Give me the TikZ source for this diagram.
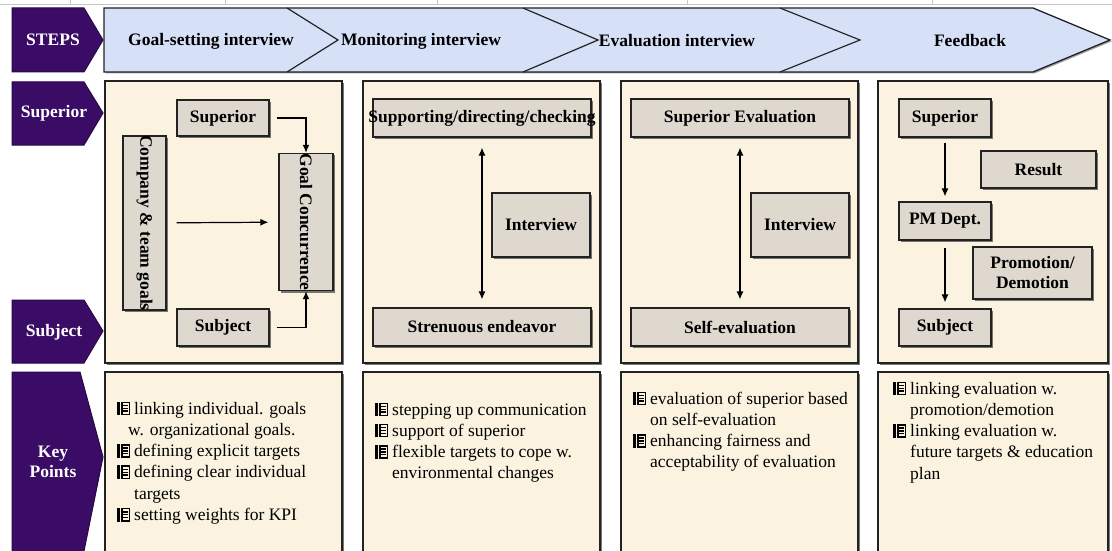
\documentclass[tikz,border=0pt]{standalone}
\usepackage{fontspec}
\setmainfont{Liberation Serif}
\usetikzlibrary{shadows,calc,arrows.meta}

\definecolor{plum}{RGB}{58,12,102}
\definecolor{bandfill}{RGB}{214,224,247}
\definecolor{panelfill}{RGB}{251,243,224}
\definecolor{cardfill}{RGB}{222,216,207}
\definecolor{edge}{RGB}{34,34,34}

% list marker: a bar beside a small ruled note, built from rules
\newcommand\kpmark{\raisebox{-1pt}{\setlength{\unitlength}{1pt}%
  \begin{picture}(13,13.5)
    \put(0,0){\rule{3pt}{13.5pt}}
    \put(4.2,0){\rule{8.8pt}{1.4pt}}
    \put(4.2,12.1){\rule{8.8pt}{1.4pt}}
    \put(4.2,0){\rule{1.3pt}{13.5pt}}
    \put(11.7,0){\rule{1.3pt}{13.5pt}}
    \put(4.2,3.3){\rule{6.6pt}{1.3pt}}
    \put(4.2,6.1){\rule{6.6pt}{1.3pt}}
    \put(4.2,8.9){\rule{6.6pt}{1.3pt}}
  \end{picture}}}

\tikzset{
  sidelabel/.style={text=white, font=\bfseries\fontsize{17.5}{20}\selectfont, align=center, inner sep=0pt},
  bandtext/.style={font=\bfseries\fontsize{17.5}{20}\selectfont, inner sep=0pt},
  panel/.style={draw=edge, line width=1.2pt, fill=panelfill, inner sep=0pt,
    drop shadow={shadow xshift=2pt, shadow yshift=-2pt, fill=black!75, opacity=0.7}},
  card/.style={draw=edge, line width=1.2pt, fill=cardfill, inner sep=0pt, align=center,
    font=\bfseries\fontsize{17.5}{20}\selectfont,
    drop shadow={shadow xshift=2pt, shadow yshift=-2pt, fill=black!75, opacity=0.7}},
  conn/.style={-{Latex[length=8pt,width=7pt]}, line width=1.2pt},
  biconn/.style={{Latex[length=8pt,width=7pt]}-{Latex[length=8pt,width=7pt]}, line width=1.2pt},
  kptext/.style={font=\fontsize{17.5}{21.3}\selectfont, anchor=base west, inner sep=0pt, align=left},
}

\begin{document}
\begin{tikzpicture}[x=1pt,y=-1pt]
\useasboundingbox (0,0) rectangle (1112,551);
\fill[white] (0,0) rectangle (1112,551);

% sheet grid remnants along the top
\draw[gray!45, line width=0.8pt] (0,4) -- (1112,4);
\foreach \gx in {70,225,437,687,932} \draw[gray!45, line width=0.8pt] (\gx,0) -- (\gx,4);

% row headers
\fill[plum, draw=plum!70!black, line width=1pt] (12,8) -- (84,8) -- (103,40) -- (84,72) -- (12,72) -- cycle;
\fill[plum, draw=plum!70!black, line width=1pt] (12,82) -- (84,82) -- (103,113) -- (84,145) -- (12,145) -- cycle;
\fill[plum, draw=plum!70!black, line width=1pt] (12,300) -- (84,300) -- (103,331) -- (84,363) -- (12,363) -- cycle;
\fill[plum, draw=plum!70!black, line width=1pt] (12,372) -- (80,372) -- (103,457) -- (83,556) -- (12,556) -- cycle;
\node[sidelabel] (hsteps) at (53,40) {STEPS};
\node[sidelabel] (hsup) at (54,113) {Superior};
\node[sidelabel] (hsub) at (54,332) {Subject};
\node[sidelabel] (hkey) at (53,462) {Key\\Points};

% process band
\filldraw[fill=bandfill, draw=edge, line width=1.3pt,
  drop shadow={shadow xshift=1.5pt, shadow yshift=-1.5pt, fill=black!60, opacity=0.6}]
  (104,8) -- (1033,8) -- (1110,40) -- (1033,72) -- (104,72) -- cycle;
\draw[edge, line width=1.2pt] (287,8) -- (338,40) -- (287,72);
\draw[edge, line width=1.2pt] (523,8) -- (598,40) -- (523,72);
\draw[edge, line width=1.2pt] (780,8) -- (860,40) -- (780,72);
\node[bandtext] (s1) at (211,41) {Goal-setting interview};
\node[bandtext] (s2) at (421,41) {Monitoring interview};
\node[bandtext] (s3) at (677,41) {Evaluation interview};
\node[bandtext] (s4) at (970,41) {Feedback};

% panels, upper row
\node[panel, minimum width=237, minimum height=282] (pa) at (223.5,222) {};
\node[panel, minimum width=237, minimum height=282] (pb) at (481.5,222) {};
\node[panel, minimum width=237, minimum height=282] (pc) at (739.5,222) {};
\node[panel, minimum width=230, minimum height=282] (pd) at (993,222) {};
% panels, lower row
\node[panel, minimum width=237, minimum height=190] (qa) at (223.5,467) {};
\node[panel, minimum width=237, minimum height=190] (qb) at (481.5,467) {};
\node[panel, minimum width=237, minimum height=190] (qc) at (739.5,467) {};
\node[panel, minimum width=230, minimum height=190] (qd) at (993,467) {};

% goal setting (the rotated cards: west is the top side, east the bottom side)
\node[card, minimum width=92, minimum height=36] (gsup) at (223,118) {Superior};
\node[card, minimum width=174, minimum height=43, rotate=-90] (gcomp) at (144.5,223) {\makebox[170pt]{Company \& team goals}};
\node[card, minimum width=136, minimum height=54, rotate=-90] (ggoal) at (306,222) {Goal Concurrence};
\node[card, minimum width=92, minimum height=37] (gsub) at (223,327.5) {Subject};
\draw[conn, shorten <=7pt] (gsup.east) -| (ggoal.west);
\draw[conn, shorten <=7pt] (gsub.east) -| (ggoal.east);
\draw[conn, shorten <=10pt, shorten >=10pt] (gcomp) -- (ggoal);

% monitoring
\node[card, minimum width=218, minimum height=38] (msup) at (482,118) {\makebox[218pt]{Supporting/directing/checking}};
\node[card, minimum width=98, minimum height=64] (mint) at (541,225) {Interview};
\node[card, minimum width=218, minimum height=38] (msub) at (482,327) {Strenuous endeavor};
\draw[biconn, shorten <=10pt, shorten >=8pt] (msup.south) -- (msub.north);

% evaluation
\node[card, minimum width=218, minimum height=38] (esup) at (740,118) {Superior Evaluation};
\node[card, minimum width=98, minimum height=64] (eint) at (800,225) {Interview};
\node[card, minimum width=218, minimum height=38] (esub) at (740,327) {Self-evaluation};
\draw[biconn, shorten <=10pt, shorten >=8pt] (esup.south) -- (esub.north);

% feedback
\node[card, minimum width=92, minimum height=38] (fsup) at (945,118) {Superior};
\node[card, minimum width=115, minimum height=37] (fres) at (1038.5,169.5) {Result};
\node[card, minimum width=92, minimum height=38] (fpm) at (945,221) {PM Dept.};
\node[card, minimum width=119, minimum height=52] (fprom) at (1032.5,273) {Promotion/\\Demotion};
\node[card, minimum width=92, minimum height=37] (fsub) at (945,327.5) {Subject};
\draw[conn, shorten <=5pt, shorten >=5pt] (fsup) -- (fpm);
\draw[conn, shorten <=7pt, shorten >=6pt] (fpm) -- (fsub);

% key points
\node[kptext] (ka) at (117,414) {\begin{tabular}[t]{@{}l@{\hspace{4pt}}l@{}}
\kpmark & linking individual. goals\\
 & \hspace{-6pt}w. organizational goals.\\
\kpmark & defining explicit targets\\
\kpmark & defining clear individual\\
 & targets\\
\kpmark & setting weights for KPI
\end{tabular}};
\node[kptext] (kb) at (375,415) {\begin{tabular}[t]{@{}l@{\hspace{4pt}}l@{}}
\kpmark & stepping up communication\\
\kpmark & support of superior\\
\kpmark & flexible targets to cope w.\\
 & environmental changes
\end{tabular}};
\node[kptext] (kc) at (633,404) {\begin{tabular}[t]{@{}l@{\hspace{4pt}}l@{}}
\kpmark & evaluation of superior based\\
 & on self-evaluation\\
\kpmark & enhancing fairness and\\
 & acceptability of evaluation
\end{tabular}};
\node[kptext] (kd) at (893,394) {\begin{tabular}[t]{@{}l@{\hspace{4pt}}l@{}}
\kpmark & linking evaluation w.\\
 & promotion/demotion\\
\kpmark & linking evaluation w.\\
 & future targets \& education\\
 & plan
\end{tabular}};
\end{tikzpicture}
\end{document}
